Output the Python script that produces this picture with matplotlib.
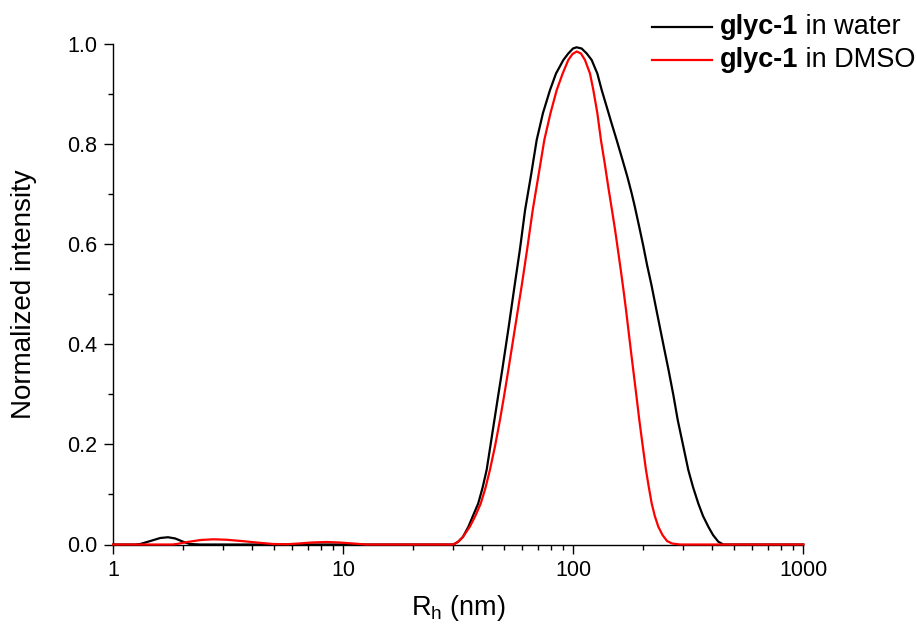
import matplotlib
matplotlib.use("Agg")
import matplotlib.pyplot as plt
from matplotlib.ticker import FixedLocator, NullFormatter, LogLocator, FixedFormatter
from matplotlib.lines import Line2D

plt.rcParams['font.family'] = ['Liberation Sans', 'DejaVu Sans']

# Data (R_h in nm, normalized intensity)
water_x = [1.0, 1.25, 1.31, 1.45, 1.6, 1.73, 1.86, 2.0, 2.15, 2.4, 10, 25,
           30.1, 31.6, 33.1, 35.0, 36.6, 38.6, 40.3, 42.0, 43.6, 45.4, 47.2, 49.1, 52.3,
           55.6, 58.7, 61.7, 65.5, 69.3, 73.8, 79.2, 84.1, 90.5, 95.1, 99.7, 103.3,
           108.7, 114.4, 120.2, 127.2, 132.9, 139.4, 146.6, 154.4, 162.8, 172.0, 179.3,
           184.5, 192.8, 201.2, 209.4, 218.8, 227.9, 237.7, 248.0, 259.4, 272.2, 284.4,
           299.9, 316.2, 331.4, 349.5, 366.4, 386.4, 405.0, 427.0, 449, 500, 1000]
water_y = [0.0, 0.0, 0.001, 0.007, 0.013, 0.0145, 0.012, 0.006, 0.001, 0.0, 0.0, 0.0,
           0.0, 0.0056, 0.015, 0.0356, 0.057, 0.082, 0.113, 0.149, 0.197, 0.249, 0.299, 0.349, 0.433,
           0.518, 0.592, 0.668, 0.738, 0.808, 0.862, 0.908, 0.941, 0.968, 0.981, 0.991, 0.9934,
           0.991, 0.981, 0.968, 0.941, 0.908, 0.876, 0.842, 0.808, 0.772, 0.734, 0.702,
           0.678, 0.638, 0.598, 0.558, 0.518, 0.477, 0.435, 0.393, 0.349, 0.299, 0.249,
           0.199, 0.149, 0.115, 0.082, 0.057, 0.0356, 0.019, 0.0056, 0.0, 0.0, 0.0]

dmso_x = [1.0, 1.8, 1.89, 2.1, 2.4, 2.72, 3.1, 3.6, 4.3, 4.96, 5.67, 6.4, 7.3, 8.46, 9.6, 11.0, 12.6, 25,
          30.1, 31.6, 33.1, 35.5, 37.5, 39.6, 41.5, 43.4, 45.7, 48.0, 50.1, 52.2, 55.8, 59.7, 63.1,
          66.6, 70.6, 74.8, 79.6, 84.7, 89.9, 95.1, 99.2, 103.5,
          108.0, 112.4, 118.2, 122.2, 127.2, 131.9, 136.9, 142.2, 147.3, 152.0, 156.4, 160.9,
          165.3, 169.5, 173.6, 177.8, 182.2, 187.9, 193.6, 200.1, 207, 212.9, 219.2, 226.1,
          234.2, 244.2, 255.5, 268.7, 291, 350, 1000]
dmso_y = [0.0, 0.0, 0.001, 0.005, 0.009, 0.0104, 0.0095, 0.007, 0.0035, 0.001, 0.0005, 0.002, 0.004,
          0.005, 0.004, 0.002, 0.0, 0.0,
          0.0, 0.0056, 0.015, 0.0356, 0.057, 0.082, 0.113, 0.149, 0.197, 0.249, 0.299, 0.349, 0.433, 0.518, 0.592,
          0.668, 0.738, 0.808, 0.862, 0.908, 0.941, 0.968, 0.980, 0.985,
          0.981, 0.968, 0.941, 0.908, 0.862, 0.808, 0.762, 0.712, 0.668, 0.628, 0.588, 0.548,
          0.508, 0.469, 0.429, 0.389, 0.349, 0.299, 0.249, 0.199, 0.149, 0.115, 0.082, 0.057,
          0.0356, 0.019, 0.007, 0.002, 0.0, 0.0, 0.0]

labels_bold = ['glyc-1', 'glyc-1']
labels_rest = [' in water', ' in DMSO']
colors = ['black', '#ff0000']

x_ticks = [1, 10, 100, 1000]
x_ticklabels = ['1', '10', '100', '1000']
y_ticks = [0.0, 0.2, 0.4, 0.6, 0.8, 1.0]
y_ticklabels = ['0.0', '0.2', '0.4', '0.6', '0.8', '1.0']
y_minor = [0.1, 0.3, 0.5, 0.7, 0.9]

fig = plt.figure(figsize=(9.17, 6.28), dpi=100)
ax = fig.add_axes([113.3 / 917, 1 - 544.5 / 628, (803.3 - 113.3) / 917, (544.5 - 44) / 628])

l1, = ax.plot(water_x, water_y, color=colors[0], lw=1.6, clip_on=False, zorder=3)
l2, = ax.plot(dmso_x, dmso_y, color=colors[1], lw=1.6, clip_on=False, zorder=4)

ax.set_xscale('log')
ax.set_xlim(1, 1000)
ax.set_ylim(0, 1.0)

ax.xaxis.set_major_locator(FixedLocator(x_ticks))
ax.xaxis.set_major_formatter(FixedFormatter(x_ticklabels))
ax.xaxis.set_minor_locator(LogLocator(base=10, subs=range(2, 10)))
ax.xaxis.set_minor_formatter(NullFormatter())
ax.yaxis.set_major_locator(FixedLocator(y_ticks))
ax.yaxis.set_major_formatter(FixedFormatter(y_ticklabels))
ax.yaxis.set_minor_locator(FixedLocator(y_minor))

for s in ['top', 'right']:
    ax.spines[s].set_visible(False)
for s in ['left', 'bottom']:
    ax.spines[s].set_linewidth(1.0)

ax.tick_params(which='major', direction='out', length=6.5, width=1.0, labelsize=15.5)
ax.tick_params(which='minor', direction='out', length=3.5, width=1.0)
ax.tick_params(axis='y', which='major', pad=5)
ax.tick_params(axis='x', which='major', pad=5)

ax.set_xlabel(r'R$_\mathregular{h}$ (nm)', fontsize=19.5, labelpad=8)
ax.set_ylabel('Normalized intensity', fontsize=20, labelpad=22)

# Legend: line samples plus bold/regular text
leg_y = [27 / 628, 60 / 628]
for i, ln in enumerate([l1, l2]):
    yy = 1 - leg_y[i]
    fig.add_artist(Line2D([652 / 917, 712 / 917], [yy, yy], color=colors[i], lw=1.6,
                          transform=fig.transFigure))
    t = fig.text(720 / 917, yy, labels_bold[i], fontsize=19.5, fontweight='bold',
                 va='center', ha='left')
    ax.annotate(labels_rest[i], xy=(1, 0), xycoords=t, va='bottom', ha='left', fontsize=19.5)

fig.savefig('out.png', dpi=100)
